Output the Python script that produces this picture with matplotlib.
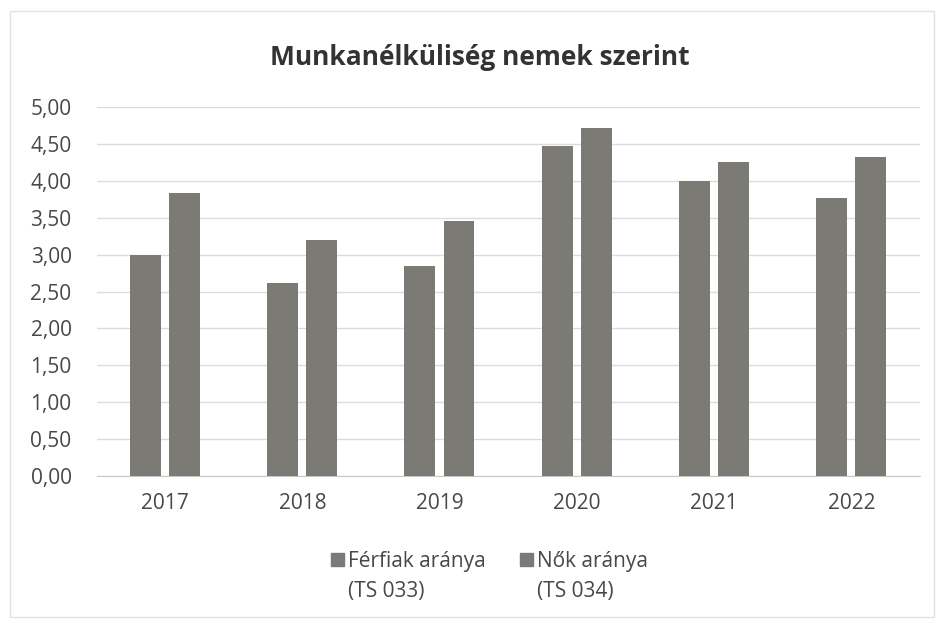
import matplotlib.pyplot as plt
import numpy as np
from matplotlib.ticker import FuncFormatter
from matplotlib.patches import Rectangle

# data
years = ["2017", "2018", "2019", "2020", "2021", "2022"]
ferfiak = [3.00, 2.61, 2.84, 4.47, 4.00, 3.77]
nok = [3.84, 3.20, 3.45, 4.72, 4.25, 4.32]
labels = [("Férfiak aránya", "(TS 033)"), ("Nők aránya", "(TS 034)")]

plt.rcParams["font.family"] = ["Open Sans", "DejaVu Sans"]

fig = plt.figure(figsize=(9.38, 6.23), dpi=100)
ax = fig.add_axes([0.103, 0.236, 0.878, 0.592])

# light frame round the chart
fig.patches.append(Rectangle((0.011, 0.01), 0.985, 0.972, transform=fig.transFigure,
                             fill=False, edgecolor="#e2e2e2", linewidth=1))

x = np.arange(len(years))
w = 0.225
bar_color = "#7b7a74"
text_color = "#484848"
ax.bar(x - 0.145, ferfiak, width=w, color=bar_color, zorder=3)
ax.bar(x + 0.14, nok, width=w, color=bar_color, zorder=3)

ax.set_xlim(-0.5, 5.5)
ax.set_ylim(0, 5)
ax.set_yticks(np.arange(0, 5.01, 0.5))
ax.yaxis.set_major_formatter(FuncFormatter(lambda v, p: f"{v:.2f}".replace(".", ",")))
ax.set_xticks(x)
ax.set_xticklabels(years)
ax.tick_params(axis="both", length=0, labelsize=15, labelcolor=text_color)
ax.tick_params(axis="x", pad=12)
ax.tick_params(axis="y", pad=18)

ax.grid(axis="y", color="#dcdcdc", linewidth=1, zorder=0)
for s in ["top", "right", "left"]:
    ax.spines[s].set_visible(False)
ax.spines["bottom"].set_color("#c8c8c8")

fig.text(0.512, 0.908, "Munkanélküliség nemek szerint", ha="center", va="center",
         fontsize=19, fontweight="bold", color="#333333")

# legend: square marker beside the first line of a two-line label
sq_x = [0.353, 0.554]
txt_x = [0.371, 0.5725]
for sx, tx, (l1, l2) in zip(sq_x, txt_x, labels):
    fig.patches.append(Rectangle((sx, 0.0915), 0.0139, 0.0209, transform=fig.transFigure,
                                 color=bar_color))
    fig.text(tx, 0.0899, l1, ha="left", va="baseline", fontsize=15, color=text_color)
    fig.text(tx, 0.0417, l2, ha="left", va="baseline", fontsize=15, color=text_color)

fig.savefig("out.png", dpi=100, facecolor="white")
